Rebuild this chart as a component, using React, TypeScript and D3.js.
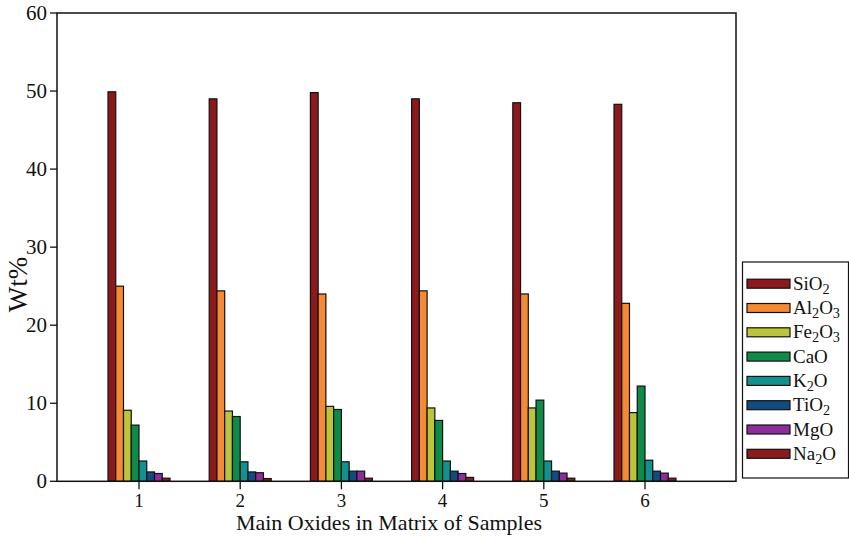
import React from "react";
import * as d3 from "d3";

const samples = [1, 2, 3, 4, 5, 6];
const oxides = ["SiO2", "Al2O3", "Fe2O3", "CaO", "K2O", "TiO2", "MgO", "Na2O"];
const colors = ["#8c1a1d", "#f58a34", "#bcc43c", "#0e8b49", "#13918f", "#124b7f", "#8f2c9b", "#8c1a1d"];

const SiO2 = [49.9, 49.0, 49.8, 49.0, 48.5, 48.3];
const Al2O3 = [25.0, 24.4, 24.0, 24.4, 24.0, 22.8];
const Fe2O3 = [9.1, 9.0, 9.6, 9.4, 9.4, 8.8];
const CaO = [7.2, 8.3, 9.2, 7.8, 10.4, 12.2];
const K2O = [2.6, 2.5, 2.5, 2.6, 2.6, 2.7];
const TiO2 = [1.2, 1.2, 1.3, 1.3, 1.3, 1.3];
const MgO = [1.0, 1.1, 1.3, 1.0, 1.05, 1.05];
const Na2O = [0.4, 0.35, 0.4, 0.5, 0.4, 0.4];
const series = [SiO2, Al2O3, Fe2O3, CaO, K2O, TiO2, MgO, Na2O];

const yTicks = [0, 10, 20, 30, 40, 50, 60];

const font = "Liberation Serif, DejaVu Serif, serif";

// split "Al2O3" into normal text and subscript digits
function Formula({ name, x, y, size }: { name: string; x: number; y: number; size: number }) {
  const parts = name.match(/[A-Za-z]+|\d+/g) || [];
  return (
    <text x={x} y={y} style={{ fontSize: size, fontFamily: font }} fill="#111">
      {parts.map((p, i) =>
        /\d/.test(p) ? (
          <tspan key={i} style={{ fontSize: size * 0.75 }} dy={4}>{p}</tspan>
        ) : (
          <tspan key={i} dy={i > 0 && /\d/.test(parts[i - 1]) ? -4 : 0}>{p}</tspan>
        )
      )}
    </text>
  );
}

export default function App() {
  const left = 57, right = 736, top = 13, bottom = 481.3;

  const x = d3.scaleLinear().domain([1, 6]).range([139, 645]);
  const inner = d3.scaleBand<string>().domain(oxides).range([-31, 31]);
  const y = d3.scaleLinear().domain([0, 60]).range([bottom, top]);

  return (
    <svg width={849} height={537} style={{ position: "absolute", left: 0, top: 0, fontFamily: font }}>
      <rect width={849} height={537} fill="#fff" />

      {series.map((vals, si) =>
        vals.map((v, i) => (
          <rect
            key={si + "-" + i}
            x={x(samples[i]) + (inner(oxides[si]) as number)}
            y={y(v)}
            width={inner.bandwidth()}
            height={y(0) - y(v)}
            fill={colors[si]}
            stroke="#111"
            strokeWidth={1.2}
          />
        ))
      )}

      {/* frame */}
      <rect x={left} y={top} width={right - left} height={bottom - top} fill="none" stroke="#111" strokeWidth={1.5} />

      {yTicks.map((t) => (
        <g key={t}>
          <line x1={50} x2={left} y1={y(t)} y2={y(t)} stroke="#111" strokeWidth={1.3} />
          <text x={47} y={y(t) + 7} textAnchor="end" style={{ fontSize: 21 }} fill="#111">{t}</text>
        </g>
      ))}

      {samples.map((s) => (
        <g key={s}>
          <line x1={x(s)} x2={x(s)} y1={bottom} y2={bottom + 8} stroke="#111" strokeWidth={1.3} />
          <text x={x(s)} y={507} textAnchor="middle" style={{ fontSize: 19 }} fill="#111">{s}</text>
        </g>
      ))}

      <text x={389} y={530} textAnchor="middle" style={{ fontSize: 22 }} fill="#111">
        Main Oxides in Matrix of Samples
      </text>
      <text transform="translate(27,284.5) rotate(-90)" textAnchor="middle" style={{ fontSize: 27 }} fill="#111">
        Wt%
      </text>

      {/* legend */}
      <rect x={742.5} y={262} width={106} height={216} fill="#fff" stroke="#111" strokeWidth={1.2} />
      {oxides.map((o, i) => {
        const cy = 283.7 + i * 24.3;
        return (
          <g key={o}>
            <rect x={747} y={cy - 4.5} width={43} height={9} fill={colors[i]} stroke="#111" strokeWidth={1.2} />
            <Formula name={o} x={793} y={cy + 6} size={19} />
          </g>
        );
      })}
    </svg>
  );
}
